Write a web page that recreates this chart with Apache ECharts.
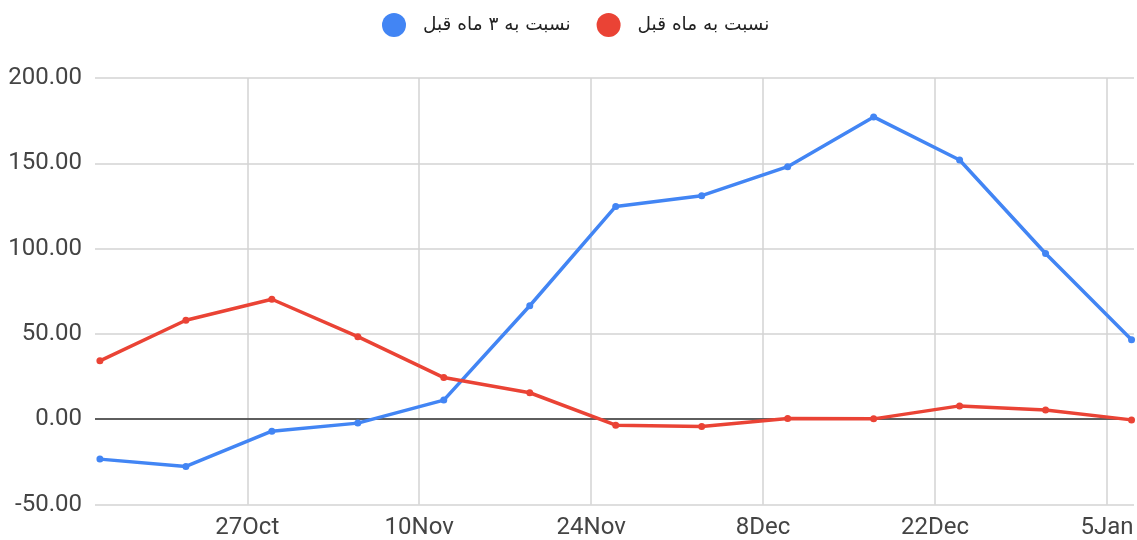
<!DOCTYPE html>
<html><head><meta charset="utf-8">
<script src="https://cdn.jsdelivr.net/npm/echarts@6/dist/echarts.min.js"></script>
<style>html,body{margin:0;padding:0;background:#fff}#c{width:1137px;height:540px}</style>
</head><body><div id="c"></div>
<script>
const dates = ['2023-10-15','2023-10-22','2023-10-29','2023-11-05','2023-11-12','2023-11-19','2023-11-26','2023-12-03','2023-12-10','2023-12-17','2023-12-24','2023-12-31','2024-01-07'];
const seriesNames = ['نسبت به ۳ ماه قبل', 'نسبت به ماه قبل'];
const threeMonth = [-23.4, -27.7, -7.0, -2.3, 11.2, 66.5, 124.7, 131.0, 148.0, 177.2, 151.9, 97.1, 46.6];
const oneMonth = [34.2, 58.0, 70.3, 48.4, 24.4, 15.5, -3.5, -4.3, 0.4, 0.2, 7.8, 5.4, -0.4];
const xTicks = ['2023-10-27','2023-11-10','2023-11-24','2023-12-08','2023-12-22','2024-01-05'];
const monthNames = ['Jan','Feb','Mar','Apr','May','Jun','Jul','Aug','Sep','Oct','Nov','Dec'];

const DAY = 86400000;
const toDay = s => Date.parse(s + 'T00:00:00Z') / DAY;
const fmtDay = v => { const d = new Date(Math.round(v) * DAY); return d.getUTCDate() + monthNames[d.getUTCMonth()]; };
const tickDays = xTicks.map(toDay);
const ref = tickDays[0];

const chart = echarts.init(document.getElementById('c'), null, {renderer: 'canvas'});
const font = 'Roboto, "Liberation Sans", Arial, sans-serif';
chart.setOption({
  animation: false,
  backgroundColor: '#fff',
  textStyle: {fontFamily: font},
  legend: {
    data: seriesNames,
    top: 8,
    left: 377,
    icon: 'circle',
    itemWidth: 24,
    itemHeight: 24,
    itemGap: 26,
    textStyle: {fontSize: 18.5, color: '#222', fontFamily: '"DejaVu Sans", "Noto Sans", sans-serif', padding: [0, 0, 0, 12]}
  },
  grid: {left: 95, right: 3, top: 78, bottom: 35.5, containLabel: false},
  xAxis: {
    type: 'value',
    min: ref - 12.4,
    max: ref + 72.2,
    axisLine: {show: false},
    axisTick: {show: false, customValues: tickDays},
    axisLabel: {customValues: tickDays, formatter: fmtDay, fontSize: 24, color: '#444', margin: 11, fontFamily: font},
    splitLine: {show: true, lineStyle: {color: '#d3d3d3', width: 1.5}}
  },
  yAxis: {
    type: 'value',
    min: -50, max: 200, interval: 50,
    axisLine: {show: false},
    axisTick: {show: false},
    axisLabel: {formatter: v => v.toFixed(2), fontSize: 24, color: '#444', margin: 13, fontFamily: font},
    splitLine: {show: true, lineStyle: {color: '#d3d3d3', width: 1.5}}
  },
  series: [
    {
      name: seriesNames[0], type: 'line', z: 5,
      data: dates.map((d, i) => [toDay(d), threeMonth[i]]),
      color: '#4285F4', symbol: 'circle', symbolSize: 7,
      lineStyle: {width: 3.5}
    },
    {
      name: seriesNames[1], type: 'line', z: 5,
      data: dates.map((d, i) => [toDay(d), oneMonth[i]]),
      color: '#EA4335', symbol: 'circle', symbolSize: 7,
      lineStyle: {width: 3.5}
    },
    {
      name: 'zero', type: 'line', z: 1, data: [],
      markLine: {silent: true, symbol: ['none', 'none'], label: {show: false},
        lineStyle: {color: '#333', width: 1.5, type: 'solid'}, data: [{yAxis: 0}]}
    }
  ]
});
</script></body></html>
